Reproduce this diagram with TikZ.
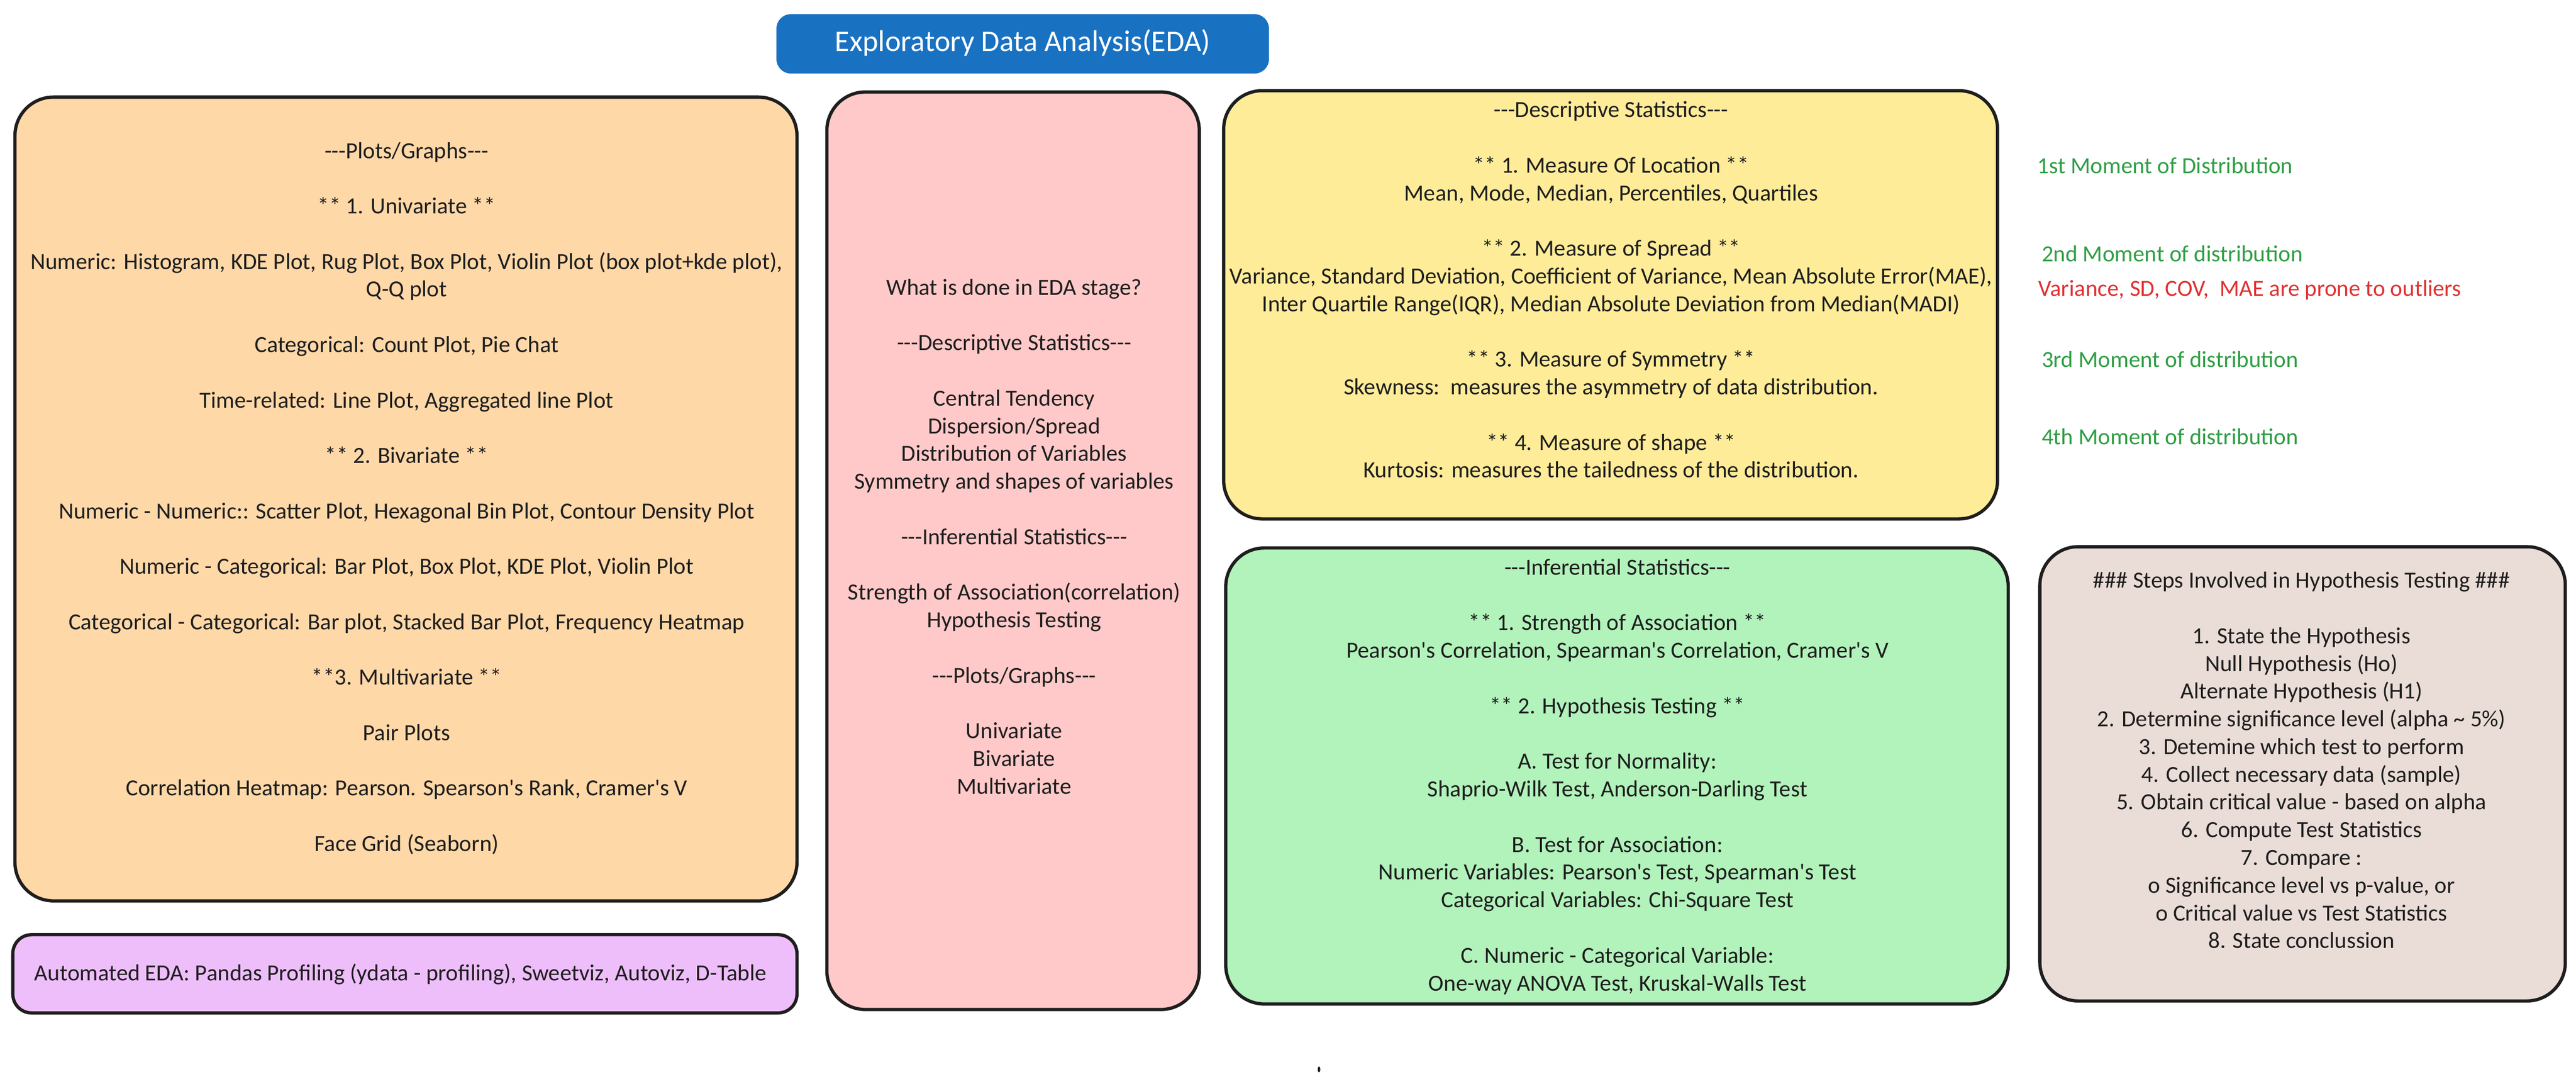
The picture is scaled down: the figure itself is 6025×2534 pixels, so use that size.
\documentclass[tikz,border=0pt]{standalone}
\usepackage{fontspec}
\setmainfont{Carlito}[Ligatures=TeXOff]
\definecolor{strokec}{HTML}{1E1E1E}
\definecolor{titlec}{HTML}{1971C2}
\definecolor{orangef}{HTML}{FFD8A8}
\definecolor{purplef}{HTML}{EEBEFA}
\definecolor{pinkf}{HTML}{FFC9C9}
\definecolor{yellowf}{HTML}{FFEC99}
\definecolor{greenf}{HTML}{B2F2BB}
\definecolor{brownf}{HTML}{EADDD7}
\definecolor{greent}{HTML}{2F9E44}
\definecolor{redt}{HTML}{E03131}
\newcommand{\bl}{\\[32.4pt]}
\begin{document}
\begin{tikzpicture}[x=0.5pt,y=-0.5pt,
  box/.style={draw=strokec, line width=3.8pt, rounded corners=45pt},
  smallbox/.style={draw=strokec, line width=3.8pt, rounded corners=22pt},
  txt/.style={align=center, anchor=base, inner sep=0pt, text=strokec,
    font=\fontsize{27}{32.4}\selectfont},
  side/.style={anchor=base west, inner sep=0pt, font=\fontsize{27}{32.4}\selectfont}]
\useasboundingbox[fill=white] (0,0) rectangle (6025,2534);

% boxes
\fill[titlec, rounded corners=17pt] (1816,33) rectangle (2968,172);
\draw[box, fill=orangef] (35,227) rectangle (1864,2106);
\draw[smallbox, fill=purplef] (30,2185) rectangle (1864,2368);
\draw[box, fill=pinkf] (1934,215) rectangle (2805,2360);
\draw[box, fill=yellowf] (2862,212) rectangle (4672,1213);
\draw[box, fill=greenf] (2867,1281) rectangle (4697,2347);
\draw[box, fill=brownf] (4771,1278) rectangle (6000,2340);
\fill[strokec] (3085,2500) ellipse [x radius=1.5pt, y radius=3.5pt];

% title (anchor base = last line baseline)
\node[anchor=base, inner sep=0pt, text=white, font=\fontsize{35}{40}\selectfont] (title) at (2392,120) {Exploratory Data Analysis(EDA)};

% orange (coordinate = baseline of last line)
\node[txt] (plots) at (951,1990) {---Plots/Graphs---\bl
** 1. Univariate **\bl
Numeric: Histogram, KDE Plot, Rug Plot, Box Plot, Violin Plot (box plot+kde plot),\\
Q-Q plot\bl
Categorical: Count Plot, Pie Chat\bl
Time-related: Line Plot, Aggregated line Plot\bl
** 2. Bivariate **\bl
Numeric - Numeric:: Scatter Plot, Hexagonal Bin Plot, Contour Density Plot\bl
Numeric - Categorical: Bar Plot, Box Plot, KDE Plot, Violin Plot\bl
Categorical - Categorical: Bar plot, Stacked Bar Plot, Frequency Heatmap\bl
**3. Multivariate **\bl
Pair Plots\bl
Correlation Heatmap: Pearson. Spearson's Rank, Cramer's V\bl
Face Grid (Seaborn)};

% purple
\node[txt] (auto) at (937,2293) {Automated EDA: Pandas Profiling (ydata - profiling), Sweetviz, Autoviz, D-Table};

% pink
\node[txt] (what) at (2372,1856) {What is done in EDA stage?\bl
---Descriptive Statistics---\bl
Central Tendency\\
Dispersion/Spread\\
Distribution of Variables\\
Symmetry and shapes of variables\bl
---Inferential Statistics---\bl
Strength of Association(correlation)\\
Hypothesis Testing\bl
---Plots/Graphs---\bl
Univariate\\
Bivariate\\
Multivariate};

% yellow
\node[txt] (desc) at (3768,1117) {---Descriptive Statistics---\bl
** 1. Measure Of Location **\\
Mean, Mode, Median, Percentiles, Quartiles\bl
** 2. Measure of Spread **\\
Variance, Standard Deviation, Coefficient of Variance, Mean Absolute Error(MAE),\\
Inter Quartile Range(IQR), Median Absolute Deviation from Median(MADI)\bl
** 3. Measure of Symmetry **\\
Skewness:~~measures the asymmetry of data distribution.\bl
** 4. Measure of shape **\\
Kurtosis: measures the tailedness of the distribution.};

% green
\node[txt] (inf) at (3783,2316) {---Inferential Statistics---\bl
** 1. Strength of Association **\\
Pearson's Correlation, Spearman's Correlation, Cramer's V\bl
** 2. Hypothesis Testing **\bl
A. Test for Normality:\\
Shaprio-Wilk Test, Anderson-Darling Test\bl
B. Test for Association:\\
Numeric Variables: Pearson's Test, Spearman's Test\\
Categorical Variables: Chi-Square Test\bl
C. Numeric - Categorical Variable:\\
One-way ANOVA Test, Kruskal-Walls Test};

% brown
\node[txt] (steps) at (5383,2217) {\#\#\# Steps Involved in Hypothesis Testing \#\#\#\bl
1. State the Hypothesis\\
Null Hypothesis (Ho)\\
Alternate Hypothesis (H1)\\
2. Determine significance level (alpha \textasciitilde{} 5\%)\\
3. Detemine which test to perform\\
4. Collect necessary data (sample)\\
5. Obtain critical value - based on alpha\\
6. Compute Test Statistics\\
7. Compare :\\
o Significance level vs p-value, or\\
o Critical value vs Test Statistics\\
8. State conclussion};

% side notes
\node[side, text=greent] (m1) at (4765,406) {1st Moment of Distribution};
\node[side, text=greent] (m2) at (4775,612) {2nd Moment of distribution};
\node[side, text=redt] (out) at (4767,692) {Variance, SD, COV,~~MAE are prone to outliers};
\node[side, text=greent] (m3) at (4775,859) {3rd Moment of distribution};
\node[side, text=greent] (m4) at (4775,1039) {4th Moment of distribution};
\end{tikzpicture}
\end{document}
